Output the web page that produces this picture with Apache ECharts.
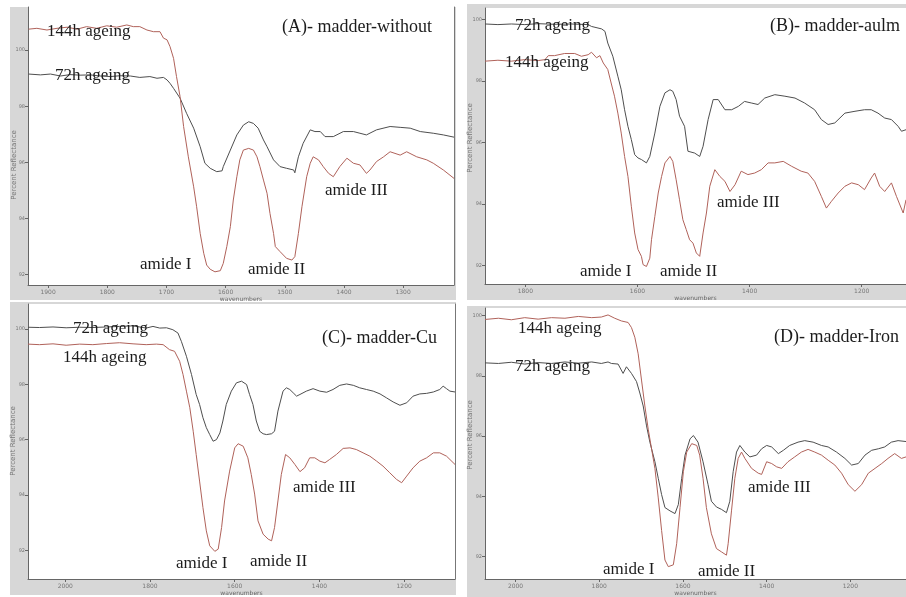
<!DOCTYPE html>
<html>
<head>
<meta charset="utf-8">
<script src="https://cdn.jsdelivr.net/npm/echarts/dist/echarts.min.js"></script>
<style>
  html, body { margin: 0; padding: 0; background: #fff; }
  #chart { width: 906px; height: 597px; }
</style>
</head>
<body>
<div id="chart"></div>
<script>
// tick labels per panel
const ticksA = [1900, 1800, 1700, 1600, 1500, 1400, 1300]
const ticksB = [1800, 1600, 1400, 1200]
const ticksCD = [2000, 1800, 1600, 1400, 1200]
const yTicks = [92, 94, 96, 98, 100]

// (A) madder-without
const a72h = [[1933,99.15],[1913,99.12],[1896,99.15],[1879,99.08],[1863,99.13],[1846,99.11],[1829,99.12],[1812,99.08],[1795,99.06],[1778,99.09],[1761,99.08],[1745,99.03],[1728,99.06],[1716,99.00],[1705,99.03],[1699,98.94],[1694,98.82],[1688,98.64],[1677,98.29],[1666,97.75],[1654,97.22],[1643,96.56],[1635,95.97],[1626,95.79],[1615,95.67],[1606,95.70],[1604,95.85],[1592,96.44],[1581,96.98],[1570,97.33],[1561,97.45],[1553,97.39],[1545,97.22],[1536,96.80],[1530,96.56],[1519,96.09],[1508,95.85],[1497,95.79],[1485,95.73],[1483,95.63],[1477,96.20],[1469,96.68],[1457,97.16],[1449,97.10],[1440,97.10],[1432,96.92],[1418,96.92],[1401,97.10],[1384,97.10],[1373,97.04],[1362,96.98],[1345,97.16],[1322,97.28],[1305,97.25],[1288,97.22],[1271,97.10],[1249,97.04],[1232,96.98],[1214,96.90]]
const a144h = [[1933,100.75],[1919,100.78],[1902,100.72],[1885,100.78],[1868,100.82],[1851,100.75],[1835,100.84],[1818,100.78],[1801,100.87],[1784,100.82],[1767,100.90],[1756,100.84],[1745,100.84],[1733,100.72],[1722,100.66],[1711,100.66],[1705,100.43],[1699,100.37],[1694,100.13],[1688,99.71],[1683,99.06],[1677,98.35],[1671,97.28],[1663,96.20],[1654,95.13],[1649,94.42],[1643,93.47],[1637,92.76],[1632,92.34],[1626,92.19],[1618,92.10],[1609,92.14],[1604,92.40],[1598,93.00],[1592,93.71],[1587,94.66],[1581,95.49],[1576,96.09],[1570,96.44],[1561,96.50],[1553,96.44],[1547,96.20],[1542,95.85],[1536,95.37],[1530,94.90],[1525,94.18],[1519,93.47],[1516,93.00],[1508,92.82],[1497,92.58],[1488,92.52],[1483,92.64],[1477,93.47],[1471,94.42],[1463,95.49],[1457,95.97],[1452,96.20],[1443,96.09],[1435,95.85],[1426,95.61],[1418,95.49],[1407,95.85],[1395,96.15],[1384,95.97],[1373,95.91],[1362,95.61],[1356,95.73],[1345,96.03],[1333,96.20],[1322,96.38],[1305,96.26],[1294,96.38],[1277,96.20],[1260,96.09],[1249,95.97],[1232,95.73],[1214,95.43]]

// (B) madder-aulm
const b72h = [[1872,99.85],[1849,99.83],[1825,99.85],[1801,99.83],[1777,99.86],[1748,99.84],[1718,99.85],[1688,99.83],[1682,99.77],[1664,99.69],[1658,99.61],[1653,99.23],[1644,98.80],[1635,98.15],[1629,97.71],[1623,97.06],[1617,96.52],[1611,96.09],[1605,95.60],[1599,95.49],[1593,95.44],[1584,95.33],[1578,95.54],[1569,96.30],[1560,97.17],[1551,97.61],[1542,97.71],[1537,97.66],[1531,97.39],[1525,96.85],[1516,96.52],[1510,95.71],[1498,95.65],[1489,95.54],[1483,95.87],[1474,96.74],[1465,97.39],[1456,97.39],[1444,97.06],[1432,97.06],[1420,97.17],[1409,97.33],[1397,97.28],[1385,97.23],[1373,97.44],[1355,97.55],[1337,97.50],[1319,97.44],[1302,97.28],[1284,97.06],[1272,96.74],[1260,96.58],[1248,96.63],[1230,96.95],[1212,97.01],[1195,97.06],[1183,97.06],[1171,96.95],[1159,96.79],[1147,96.74],[1135,96.52],[1129,96.36],[1121,96.41]]
const b144h = [[1872,98.64],[1849,98.67],[1825,98.64],[1801,98.69],[1777,98.66],[1765,98.69],[1759,98.82],[1748,98.82],[1730,98.89],[1712,98.89],[1700,98.80],[1688,98.85],[1682,98.93],[1673,98.75],[1667,98.82],[1661,98.58],[1653,98.37],[1647,97.93],[1641,97.50],[1635,96.95],[1629,96.30],[1623,95.54],[1617,94.89],[1611,93.92],[1605,93.05],[1599,92.51],[1593,92.29],[1590,92.02],[1584,91.96],[1578,92.23],[1575,92.83],[1569,93.59],[1563,94.35],[1557,94.89],[1551,95.33],[1542,95.54],[1537,95.38],[1531,94.78],[1525,94.13],[1519,93.48],[1513,93.16],[1507,92.83],[1501,92.72],[1495,92.40],[1489,92.29],[1483,93.05],[1477,93.70],[1471,94.57],[1462,95.11],[1453,94.89],[1444,94.73],[1435,94.40],[1426,94.62],[1415,95.06],[1403,94.95],[1391,95.00],[1379,95.11],[1367,95.33],[1355,95.33],[1340,95.38],[1325,95.22],[1308,95.06],[1296,95.00],[1284,94.73],[1272,94.24],[1263,93.86],[1254,94.08],[1242,94.35],[1230,94.57],[1218,94.68],[1206,94.62],[1195,94.46],[1183,94.84],[1177,95.00],[1168,94.57],[1159,94.40],[1147,94.68],[1138,94.24],[1126,93.70],[1121,94.13]]

// (C) madder-Cu
const c72h = [[2088,100.06],[2061,100.05],[2029,100.07],[1998,100.04],[1966,100.06],[1935,100.05],[1903,100.07],[1872,100.09],[1840,100.11],[1809,100.03],[1793,100.09],[1777,100.03],[1761,100.04],[1746,99.97],[1734,99.85],[1726,99.55],[1714,99.01],[1702,98.35],[1691,97.63],[1683,97.27],[1675,96.79],[1667,96.43],[1659,96.18],[1651,95.94],[1643,96.00],[1635,96.24],[1628,96.67],[1620,97.27],[1608,97.75],[1596,98.05],[1584,98.11],[1572,97.99],[1565,97.63],[1557,97.27],[1549,96.67],[1541,96.30],[1533,96.21],[1525,96.18],[1513,96.21],[1506,96.30],[1498,97.03],[1486,97.75],[1478,97.87],[1470,97.81],[1462,97.69],[1454,97.57],[1446,97.63],[1431,97.75],[1415,97.84],[1399,97.75],[1383,97.71],[1368,97.81],[1352,97.96],[1336,98.01],[1320,97.96],[1305,97.87],[1289,97.81],[1273,97.75],[1257,97.65],[1242,97.51],[1226,97.36],[1210,97.24],[1194,97.33],[1179,97.57],[1163,97.65],[1147,97.67],[1131,97.72],[1116,97.81],[1108,97.93],[1100,97.84],[1092,97.75],[1080,97.72]]
const c144h = [[2088,99.45],[2061,99.43],[2029,99.46],[1998,99.41],[1966,99.45],[1935,99.43],[1903,99.47],[1872,99.50],[1840,99.46],[1809,99.43],[1785,99.45],[1769,99.43],[1754,99.25],[1742,99.19],[1730,98.83],[1722,98.35],[1714,97.75],[1706,97.15],[1698,96.30],[1691,95.46],[1683,94.50],[1675,93.54],[1667,92.70],[1659,92.16],[1647,91.96],[1639,92.04],[1631,92.82],[1624,93.78],[1612,94.86],[1600,95.70],[1592,95.85],[1580,95.76],[1569,95.34],[1561,94.74],[1553,94.03],[1545,93.06],[1533,92.58],[1521,92.40],[1513,92.34],[1506,92.82],[1498,93.78],[1490,94.74],[1480,95.46],[1470,95.34],[1458,95.10],[1446,94.84],[1435,94.98],[1423,95.34],[1411,95.34],[1399,95.22],[1387,95.16],[1376,95.28],[1360,95.46],[1344,95.68],[1328,95.70],[1313,95.64],[1297,95.52],[1281,95.40],[1265,95.22],[1250,95.04],[1234,94.80],[1218,94.56],[1206,94.44],[1194,94.68],[1179,94.98],[1163,95.22],[1147,95.34],[1131,95.52],[1116,95.52],[1100,95.40],[1080,95.10]]

// (D) madder-Iron
const d72h = [[2073,98.43],[2041,98.41],[2010,98.45],[1978,98.39],[1946,98.44],[1914,98.41],[1882,98.46],[1850,98.42],[1818,98.46],[1795,98.41],[1779,98.46],[1771,98.41],[1755,98.39],[1743,98.08],[1735,98.30],[1723,98.08],[1711,97.81],[1703,97.43],[1695,97.00],[1687,96.34],[1679,95.80],[1667,95.15],[1659,94.60],[1651,94.06],[1643,93.63],[1631,93.52],[1619,93.43],[1611,93.73],[1603,94.60],[1595,95.37],[1583,95.91],[1575,96.02],[1564,95.80],[1552,95.15],[1540,94.39],[1532,93.84],[1520,93.65],[1508,93.57],[1496,93.46],[1488,93.84],[1480,94.82],[1472,95.47],[1464,95.69],[1452,95.47],[1440,95.31],[1424,95.37],[1412,95.58],[1400,95.69],[1388,95.64],[1372,95.42],[1360,95.53],[1345,95.69],[1325,95.80],[1309,95.85],[1289,95.80],[1269,95.69],[1253,95.64],[1233,95.47],[1213,95.26],[1197,95.04],[1181,95.09],[1165,95.37],[1149,95.53],[1133,95.58],[1118,95.64],[1102,95.80],[1086,95.85],[1067,95.82]]
const d144h = [[2073,99.87],[2041,99.91],[2010,99.86],[1978,99.93],[1946,99.88],[1914,99.93],[1882,99.91],[1850,99.97],[1818,99.93],[1795,99.95],[1779,100.02],[1763,99.91],[1747,99.82],[1731,99.77],[1723,99.60],[1715,99.28],[1707,98.73],[1699,97.86],[1691,97.00],[1683,96.23],[1675,95.58],[1667,94.93],[1659,93.95],[1651,92.87],[1643,91.89],[1635,91.67],[1623,91.73],[1615,92.43],[1607,93.63],[1599,94.82],[1591,95.47],[1579,95.75],[1567,95.69],[1560,95.37],[1552,94.60],[1544,93.63],[1532,92.76],[1520,92.27],[1508,92.16],[1496,92.05],[1492,92.43],[1484,93.52],[1476,94.60],[1468,95.26],[1460,95.47],[1452,95.26],[1436,94.93],[1420,94.77],[1412,94.73],[1400,95.15],[1388,95.09],[1376,94.98],[1364,94.93],[1349,95.15],[1333,95.31],[1317,95.47],[1301,95.56],[1285,95.47],[1269,95.37],[1253,95.20],[1237,95.04],[1221,94.77],[1205,94.39],[1189,94.17],[1173,94.39],[1157,94.77],[1141,94.93],[1125,95.09],[1110,95.26],[1094,95.42],[1078,95.26],[1067,95.31]]

const col72 = "#4e4e4e"
const col144 = "#b0625a"
const serif = "Liberation Serif"

const chart = echarts.init(document.getElementById("chart"))

function xAxis(gi, min, max, ticks) {
  return {
    type: "value", gridIndex: gi, min: min, max: max, inverse: true,
    name: "wavenumbers", nameLocation: "middle", nameGap: 11,
    nameTextStyle: { fontSize: 6, color: "#666", fontFamily: "DejaVu Sans" },
    axisLine: { show: true, lineStyle: { color: "#666", width: 1 } },
    axisTick: { show: true, length: 3, lineStyle: { color: "#666" }, customValues: ticks },
    axisLabel: {
      fontSize: 6, color: "#777", margin: 4, fontFamily: "DejaVu Sans", customValues: ticks,
      formatter: (v) => String(v),
    },
    splitLine: { show: false },
  }
}
function yAxis(gi, min, max) {
  return {
    type: "value", gridIndex: gi, min: min, max: max,
    axisLine: { show: true, lineStyle: { color: "#666", width: 1 } },
    axisTick: { show: true, length: 3, lineStyle: { color: "#666" }, customValues: yTicks },
    axisLabel: { fontSize: 5, color: "#777", margin: 3, fontFamily: "DejaVu Sans", customValues: yTicks },
    splitLine: { show: false },
  }
}
function border(gi, min, max) {
  return {
    type: "value", gridIndex: gi, min: min, max: max, position: "right",
    axisLine: { show: true, lineStyle: { color: "#777", width: 1 } },
    axisTick: { show: false }, axisLabel: { show: false }, splitLine: { show: false },
  }
}
function line(name, data, color, xi, yi) {
  return {
    name: name, type: "line", data: data, xAxisIndex: xi, yAxisIndex: yi,
    showSymbol: false, symbol: "none", silent: true,
    lineStyle: { color: color, width: 1 },
  }
}
function txt(s, x, y, size) {
  return {
    type: "text", z: 100,
    style: { text: s, x: x, y: y, font: size + "px '" + serif + "'", fill: "#1c1c1c", verticalAlign: "middle" },
  }
}
function ylab(x, y) {
  return {
    type: "text", z: 100, x: x, y: y, rotation: Math.PI / 2,
    style: { text: "Percent Reflectance", font: "7px 'DejaVu Sans'", fill: "#777", align: "center", verticalAlign: "middle" },
  }
}
function panelBg(x, y, w, h) {
  return { type: "rect", z: -10, shape: { x: x, y: y, width: w, height: h }, style: { fill: "#d7d7d7" } }
}

chart.setOption({
  animation: false,
  backgroundColor: "#fff",
  grid: [
    { left: 28, top: 7, width: 426, height: 278, show: true, backgroundColor: "#fff", borderWidth: 0 },
    { left: 485, top: 8, width: 421, height: 276, show: true, backgroundColor: "#fff", borderWidth: 0 },
    { left: 28, top: 304, width: 427, height: 276, show: true, backgroundColor: "#fff", borderWidth: 0 },
    { left: 485, top: 308, width: 421, height: 276, show: true, backgroundColor: "#fff", borderWidth: 0 },
  ],
  xAxis: [
    xAxis(0, 1214, 1934, ticksA),
    xAxis(1, 1121, 1872, ticksB),
    xAxis(2, 1080, 2088, ticksCD),
    xAxis(3, 1067, 2073, ticksCD),
  ],
  yAxis: [
    yAxis(0, 91.63, 101.54),
    yAxis(1, 91.39, 100.37),
    yAxis(2, 90.96, 100.90),
    yAxis(3, 91.26, 100.25),
    border(0, 91.63, 101.54),
    border(2, 90.96, 100.90),
  ],
  series: [
    line("72h ageing", a72h, col72, 0, 0),
    line("144h ageing", a144h, col144, 0, 0),
    line("72h ageing", b72h, col72, 1, 1),
    line("144h ageing", b144h, col144, 1, 1),
    line("72h ageing", c72h, col72, 2, 2),
    line("144h ageing", c144h, col144, 2, 2),
    line("72h ageing", d72h, col72, 3, 3),
    line("144h ageing", d144h, col144, 3, 3),
  ],
  graphic: [
    panelBg(10, 7, 446, 293),
    panelBg(467, 4, 439, 296),
    panelBg(10, 302, 446, 293),
    panelBg(467, 306, 439, 291),
    ylab(14, 165), ylab(470, 138), ylab(13, 441), ylab(470, 435),
    txt("(A)- madder-without", 282, 27, 18),
    txt("144h ageing", 47, 32, 17),
    txt("72h ageing", 55, 76, 17),
    txt("amide I", 140, 265, 17),
    txt("amide II", 248, 270, 17),
    txt("amide III", 325, 191, 17),
    txt("(B)- madder-aulm", 770, 26, 18),
    txt("72h ageing", 515, 26, 17),
    txt("144h ageing", 505, 63, 17),
    txt("amide I", 580, 272, 17),
    txt("amide II", 660, 272, 17),
    txt("amide III", 717, 203, 17),
    txt("(C)- madder-Cu", 322, 338, 18),
    txt("72h ageing", 73, 329, 17),
    txt("144h ageing", 63, 358, 17),
    txt("amide I", 176, 564, 17),
    txt("amide II", 250, 562, 17),
    txt("amide III", 293, 488, 17),
    txt("(D)- madder-Iron", 774, 337, 18),
    txt("144h ageing", 518, 329, 17),
    txt("72h ageing", 515, 367, 17),
    txt("amide I", 603, 570, 17),
    txt("amide II", 698, 572, 17),
    txt("amide III", 748, 488, 17),
  ],
})
</script>
</body>
</html>
